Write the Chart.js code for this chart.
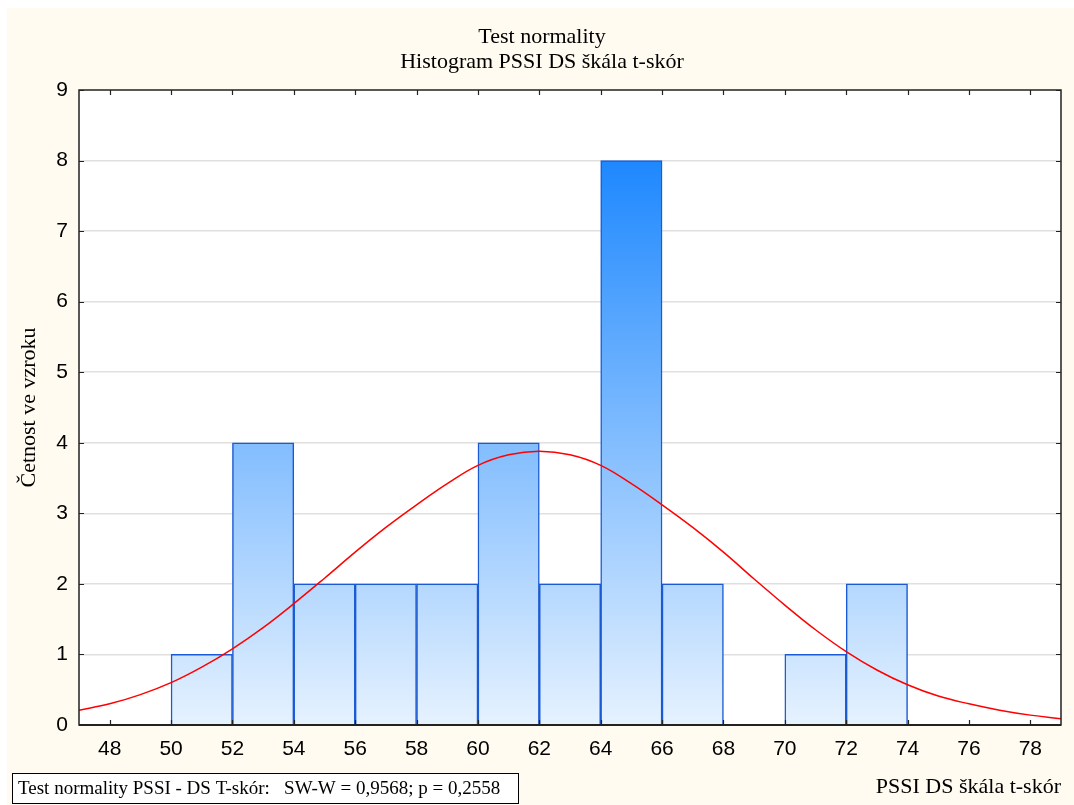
<!DOCTYPE html>
<html>
<head>
<meta charset="utf-8">
<script src="https://cdn.jsdelivr.net/npm/chart.js@4.4.1/dist/chart.umd.min.js"></script>
<style>
  body { margin: 0; background: #fff; }
  canvas { display: block; }
</style>
</head>
<body>
<canvas id="histogram" width="1074" height="805"></canvas>
<script>
// histogram bins (bin centres) and counts
var binCenters = [51, 53, 55, 57, 59, 61, 63, 65, 67, 69, 71, 73];
var counts = [1, 4, 2, 2, 2, 4, 2, 8, 2, 0, 1, 2];

// fitted normal curve
var curveX = [47, 48, 49, 50, 51, 52, 53, 54, 55, 56, 57, 58, 59, 60, 61, 62, 63,
              64, 65, 66, 67, 68, 69, 70, 71, 72, 73, 74, 75, 76, 77, 78, 79];
var curveY = [0.21, 0.30, 0.43, 0.60, 0.82, 1.08, 1.38, 1.72, 2.08, 2.45, 2.80, 3.12, 3.42, 3.68, 3.83, 3.88, 3.83,
              3.68, 3.42, 3.12, 2.80, 2.45, 2.07, 1.70, 1.35, 1.04, 0.78, 0.57, 0.41, 0.30, 0.21, 0.14, 0.09];

var xTicks = [48, 50, 52, 54, 56, 58, 60, 62, 64, 66, 68, 70, 72, 74, 76, 78];
var yTicks = [0, 1, 2, 3, 4, 5, 6, 7, 8, 9];

var titleLines = ['Test normality', 'Histogram PSSI DS škála t-skór'];
var footerText = 'Test normality PSSI - DS T-skór:   SW-W = 0,9568; p = 0,2558';

var serif = "'Liberation Serif', 'Times New Roman', serif";
var sans = "'Liberation Sans', Arial, sans-serif";

function barGradient(context) {
  var chart = context.chart;
  var y = chart.scales.y;
  if (!y || !chart.chartArea) return '#9ccbfd';
  var g = chart.ctx.createLinearGradient(0, y.getPixelForValue(0), 0, y.getPixelForValue(8));
  g.addColorStop(0, '#e6f2fe');
  g.addColorStop(1, '#1e88fe');
  return g;
}

var decor = {
  id: 'decor',
  beforeDraw: function(chart) {
    var c = chart.ctx;
    c.save();
    c.fillStyle = '#ffffff';
    c.fillRect(0, 0, chart.width, chart.height);
    c.fillStyle = '#fffbf0';
    c.fillRect(7, 8, chart.width - 7, chart.height - 8);
    var a = chart.chartArea;
    c.fillStyle = '#ffffff';
    c.fillRect(a.left, a.top, a.right - a.left, a.bottom - a.top);
    c.restore();
  },
  afterDraw: function(chart) {
    var c = chart.ctx;
    var a = chart.chartArea;
    var xs = chart.scales.x, ys = chart.scales.y;
    c.save();
    // frame
    c.strokeStyle = '#222';
    c.lineWidth = 1.5;
    c.strokeRect(a.left, a.top, a.right - a.left, a.bottom - a.top);
    c.lineWidth = 2;
    c.beginPath();
    c.moveTo(a.left, a.bottom);
    c.lineTo(a.right, a.bottom);
    c.stroke();
    // inward ticks
    c.lineWidth = 1.2;
    c.beginPath();
    xTicks.forEach(function(v) {
      var px = Math.round(xs.getPixelForValue(v)) + 0.5;
      c.moveTo(px, a.bottom); c.lineTo(px, a.bottom - 5);
      c.moveTo(px, a.top); c.lineTo(px, a.top + 5);
    });
    yTicks.forEach(function(v) {
      var py = Math.round(ys.getPixelForValue(v)) + 0.5;
      c.moveTo(a.left, py); c.lineTo(a.left + 5, py);
      c.moveTo(a.right, py); c.lineTo(a.right - 5, py);
    });
    c.stroke();
    // titles
    c.fillStyle = '#000';
    c.font = '22px ' + serif;
    c.textAlign = 'center';
    c.textBaseline = 'middle';
    var cx = chart.width / 2 + 5;
    c.fillText(titleLines[0], cx, 37);
    c.fillText(titleLines[1], cx, 62);
    // footer box
    c.fillStyle = '#ffffff';
    c.fillRect(12, 773, 506, 30);
    c.strokeStyle = '#000';
    c.lineWidth = 1;
    c.strokeRect(12.5, 773.5, 506, 30);
    c.fillStyle = '#000';
    c.font = '19px ' + serif;
    c.textAlign = 'left';
    c.fillText(footerText, 18, 789);
    c.restore();
  }
};

var ctx = document.getElementById('histogram').getContext('2d');
var chart = new Chart(ctx, {
  type: 'bar',
  data: {
    datasets: [{
      type: 'line',
      label: 'Normal',
      data: curveX.map(function(x, i) { return { x: x, y: curveY[i] }; }),
      borderColor: '#ff0000',
      borderWidth: 1.5,
      pointRadius: 0,
      tension: 0.4,
      fill: false,
      order: 0
    }, {
      label: 'Četnost',
      data: binCenters.map(function(x, i) { return { x: x, y: counts[i] }; }),
      backgroundColor: barGradient,
      borderColor: '#1a5ad4',
      borderWidth: 1.5,
      borderSkipped: 'start',
      barPercentage: 1,
      categoryPercentage: 1,
      order: 1
    }]
  },
  options: {
    responsive: false,
    animation: false,
    devicePixelRatio: 1,
    layout: { padding: { top: 90, right: 13, left: 0, bottom: 0 } },
    plugins: {
      legend: { display: false },
      tooltip: { enabled: false },
      title: { display: false }
    },
    scales: {
      x: {
        type: 'linear',
        offset: false,
        min: 47,
        max: 79,
        grid: { display: false, drawTicks: false, offset: false },
        border: { display: false },
        afterBuildTicks: function(scale) {
          scale.ticks = xTicks.map(function(v) { return { value: v }; });
        },
        afterFit: function(scale) { scale.height = 80; },
        ticks: {
          color: '#000',
          padding: 12,
          maxRotation: 0,
          autoSkip: false,
          font: { family: sans, size: 21 }
        },
        title: {
          display: true,
          text: 'PSSI DS škála t-skór',
          align: 'end',
          color: '#000',
          font: { family: serif, size: 22 },
          padding: { top: 0, bottom: 5 }
        }
      },
      y: {
        min: 0,
        max: 9,
        grid: {
          drawTicks: false,
          color: function(c) {
            return (c.tick.value === 0 || c.tick.value === 9) ? 'rgba(0,0,0,0)' : '#e0e0e0';
          },
          lineWidth: 1.5
        },
        border: { display: false },
        afterBuildTicks: function(scale) {
          scale.ticks = yTicks.map(function(v) { return { value: v }; });
        },
        afterFit: function(scale) { scale.width = 79; },
        ticks: {
          color: '#000',
          padding: 11,
          autoSkip: false,
          font: { family: sans, size: 21 }
        },
        title: {
          display: true,
          text: 'Četnost ve vzroku',
          color: '#000',
          font: { family: serif, size: 22 },
          padding: { top: 16, bottom: 0 }
        }
      }
    }
  },
  plugins: [decor]
});
</script>
</body>
</html>
